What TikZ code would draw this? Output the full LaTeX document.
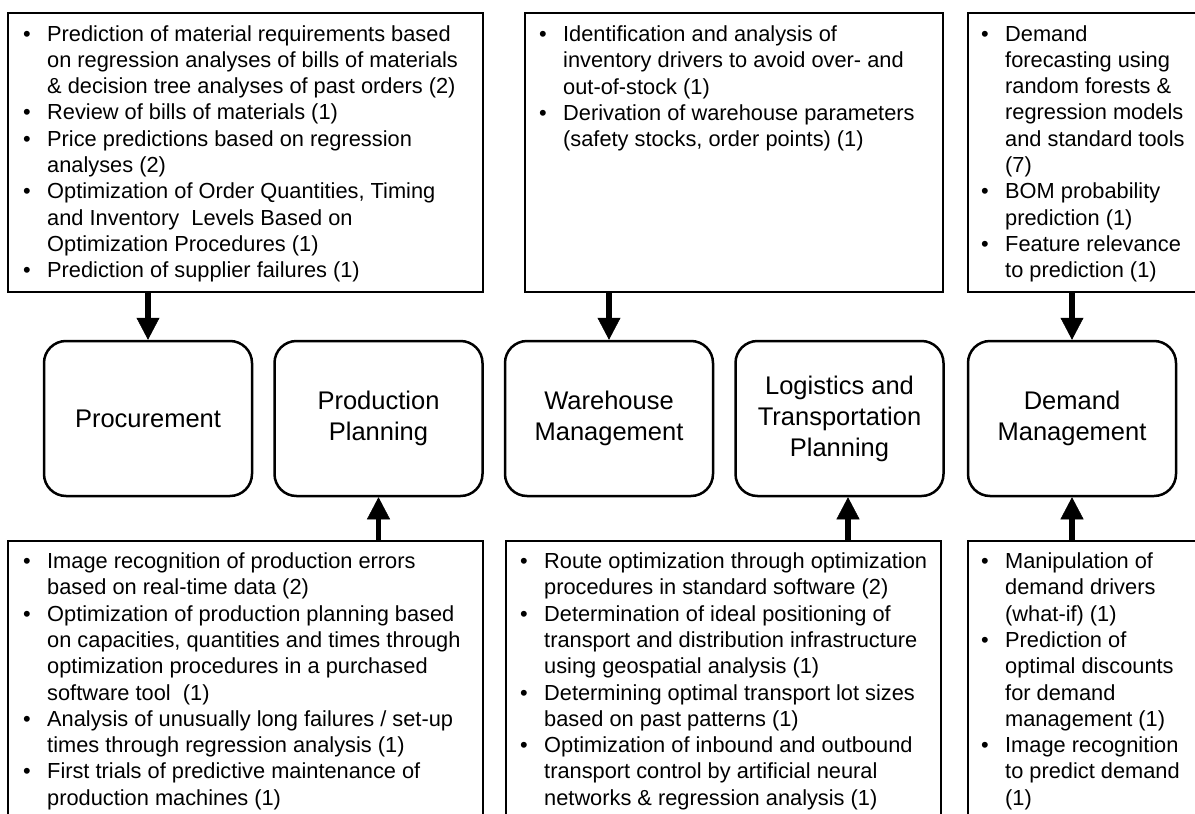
\documentclass[tikz,border=0pt]{standalone}
\usepackage{fontspec}
\setmainfont{Liberation Sans}
\usetikzlibrary{arrows.meta}

% one bulleted entry with a hanging indent; lines are broken by hand with \\
\newcommand\bitem[1]{\par\hangindent=24pt\hangafter=1\noindent\makebox[24pt][l]{\textbullet}#1\par}
\newcommand\itemlist[1]{\parbox[t]{520pt}{#1}}

\begin{document}
\begin{tikzpicture}[x=1pt,y=1pt,
  panel/.style={draw, line width=2.5pt, inner sep=0pt},
  stage/.style={draw, line width=2.5pt, rounded corners=22pt, minimum width=208pt,
    minimum height=155pt, align=center, inner sep=0pt,
    font=\fontsize{25.5}{31}\selectfont},
  listtext/.style={inner sep=0pt, anchor=base west, font=\fontsize{21.8}{26.3}\selectfont},
  feed/.style={line width=5.5pt, -{Triangle[width=23pt,length=22pt,line width=0.5pt]}}]
\path[use as bounding box] (0,0) rectangle (1195,-814);
\clip (0,0) rectangle (1195,-814);
\fill[white] (0,0) rectangle (1195,-814);

% upper panels
\node[panel, minimum width=475pt, minimum height=279pt] (tl) at (245.5,-152.5) {};
\node[panel, minimum width=418pt, minimum height=279pt] (tm) at (734,-152.5) {};
\node[panel, minimum width=247pt, minimum height=279pt] (tr) at (1091.5,-152.5) {};

% lower panels (running past the bottom edge)
\node[panel, minimum width=475pt, minimum height=299pt] (bl) at (245.5,-690.5) {};
\node[panel, minimum width=435pt, minimum height=299pt] (bm) at (723.5,-690.5) {};
\node[panel, minimum width=247pt, minimum height=299pt] (br) at (1091.5,-690.5) {};

% supply chain stages
\node[stage] (proc) at (148,-418.5) {Procurement};
\node[stage] (prod) at (378.5,-418.5) {Production\\Planning};
\node[stage] (ware) at (609,-418.5) {Warehouse\\Management};
\node[stage] (logi) at (839.5,-418.5) {Logistics and\\Transportation\\Planning};
\node[stage] (dema) at (1072,-418.5) {Demand\\Management};

% panel contents
\node[listtext] (tltext) at (23,-41) {\itemlist{%
\bitem{Prediction of material requirements based\\on regression analyses of bills of materials\\\& decision tree analyses of past orders (2)}
\bitem{Review of bills of materials (1)}
\bitem{Price predictions based on regression\\analyses (2)}
\bitem{Optimization of Order Quantities, Timing\\and Inventory \ Levels Based on\\Optimization Procedures (1)}
\bitem{Prediction of supplier failures (1)}}};

\node[listtext] (tmtext) at (539,-41.5) {\itemlist{%
\bitem{Identification and analysis of\\inventory drivers to avoid over- and\\out-of-stock (1)}
\bitem{Derivation of warehouse parameters\\(safety stocks, order points) (1)}}};

\node[listtext] (trtext) at (981,-41) {\itemlist{%
\bitem{Demand\\forecasting using\\random forests \&\\regression models\\and standard tools\\(7)}
\bitem{BOM probability\\prediction (1)}
\bitem{Feature relevance\\to prediction (1)}}};

\node[listtext] (bltext) at (23,-568.5) {\itemlist{%
\bitem{Image recognition of production errors\\based on real-time data (2)}
\bitem{Optimization of production planning based\\on capacities, quantities and times through\\optimization procedures in a purchased\\software tool \ (1)}
\bitem{Analysis of unusually long failures / set-up\\times through regression analysis (1)}
\bitem{First trials of predictive maintenance of\\production machines (1)}}};

\node[listtext] (bmtext) at (520,-568.5) {\itemlist{%
\bitem{Route optimization through optimization\\procedures in standard software (2)}
\bitem{Determination of ideal positioning of\\transport and distribution infrastructure\\using geospatial analysis (1)}
\bitem{Determining optimal transport lot sizes\\based on past patterns (1)}
\bitem{Optimization of inbound and outbound\\transport control by artificial neural\\networks \& regression analysis (1)}}};

\node[listtext] (brtext) at (981,-568.5) {\itemlist{%
\bitem{Manipulation of\\demand drivers\\(what-if) (1)}
\bitem{Prediction of\\optimal discounts\\for demand\\management (1)}
\bitem{Image recognition\\to predict demand\\(1)}}};

% arrows from panels into stages
\draw[feed] (proc.north |- tl.south) -- (proc.north);
\draw[feed] (ware.north |- tm.south) -- (ware.north);
\draw[feed] (dema.north |- tr.south) -- (dema.north);
\draw[feed] (prod.south |- bl.north) -- (prod.south);
\draw[feed] ([xshift=8.5pt]logi.south |- bm.north) -- ([xshift=8.5pt]logi.south);
\draw[feed] (dema.south |- br.north) -- (dema.south);
\end{tikzpicture}
\end{document}
